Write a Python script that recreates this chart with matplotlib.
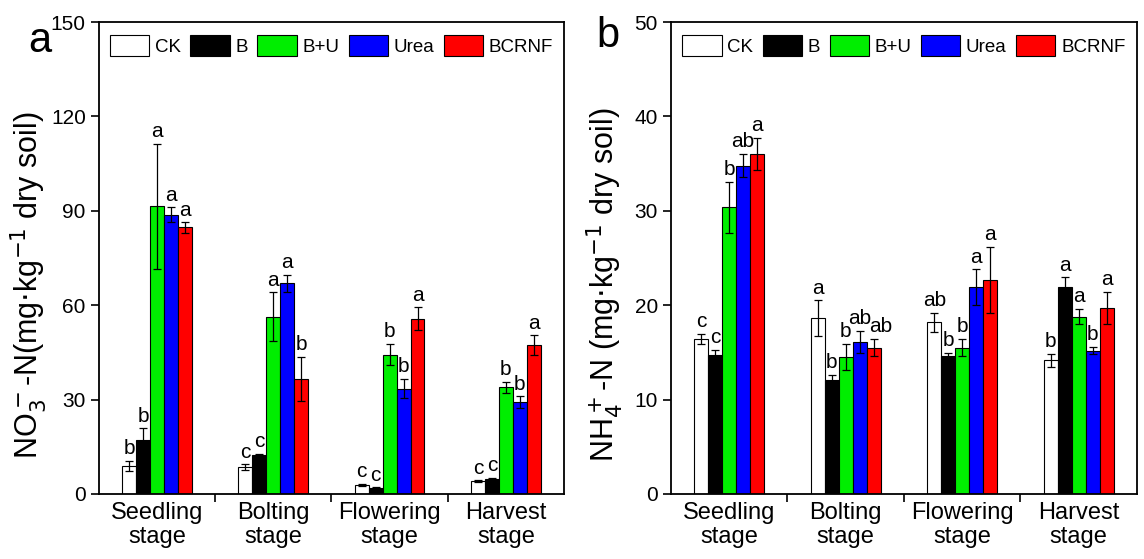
import numpy as np
import matplotlib
matplotlib.use("Agg")
import matplotlib.pyplot as plt

plt.rcParams['font.family'] = ['Liberation Sans', 'DejaVu Sans']

stages = ["Seedling\nstage", "Bolting\nstage", "Flowering\nstage", "Harvest\nstage"]
treatments = ["CK", "B", "B+U", "Urea", "BCRNF"]
colors = ["white", "black", "#00ee00", "#0000ff", "#ff0000"]

# NO3- -N, rows = treatments, cols = stages
no3_mean = [
    [9.0, 8.5, 2.8, 4.0],
    [17.3, 12.5, 1.9, 4.8],
    [91.4, 56.3, 44.3, 33.9],
    [88.7, 66.9, 33.5, 29.1],
    [84.7, 36.5, 55.7, 47.4],
]
no3_err = [
    [1.6, 0.9, 0.4, 0.3],
    [3.6, 0.3, 0.3, 0.3],
    [19.9, 7.8, 3.4, 1.8],
    [2.4, 2.7, 3.1, 1.9],
    [1.6, 7.1, 3.7, 3.1],
]
no3_letters = [
    ["b", "c", "c", "c"],
    ["b", "c", "c", "c"],
    ["a", "a", "b", "b"],
    ["a", "a", "b", "b"],
    ["a", "b", "a", "a"],
]

# NH4+ -N
nh4_mean = [
    [16.45, 18.6, 18.2, 14.15],
    [14.7, 12.1, 14.6, 21.9],
    [30.4, 14.5, 15.5, 18.8],
    [34.8, 16.1, 21.9, 15.2],
    [36.0, 15.5, 22.7, 19.7],
]
nh4_err = [
    [0.55, 1.9, 1.0, 0.7],
    [0.6, 0.5, 0.35, 1.05],
    [2.7, 1.4, 0.9, 0.8],
    [1.2, 1.2, 1.9, 0.4],
    [1.7, 0.9, 3.5, 1.7],
]
nh4_letters = [
    ["c", "a", "ab", "b"],
    ["c", "b", "b", "a"],
    ["b", "b", "b", "a"],
    ["ab", "ab", "a", "b"],
    ["a", "ab", "a", "a"],
]


def draw_panel(ax, mean, err, letters, ymax, ystep, ylabel, tag, pad, lab_x, tag_xy):
    x = np.arange(len(stages))
    w = 0.12
    for j, name in enumerate(treatments):
        pos = x + (j - 2) * w
        ax.bar(pos, mean[j], w, color=colors[j], edgecolor="black", linewidth=0.8,
               label=name, yerr=err[j], capsize=3,
               error_kw=dict(elinewidth=0.9, capthick=0.9, ecolor="black"))
        for k in range(len(stages)):
            lx = pos[k]
            # two-letter labels on the last bar sit a little to the right
            if j == 4 and len(letters[j][k]) == 2:
                lx += 0.06
            ax.text(lx, mean[j][k] + err[j][k] + pad, letters[j][k],
                    ha="center", va="bottom", fontsize=15)
    ax.set_xlim(-0.5, 3.5)
    ax.set_ylim(0, ymax)
    ax.set_yticks(np.arange(0, ymax + 1, ystep))
    ax.set_xticks(x)
    ax.set_xticklabels(stages, fontsize=17, linespacing=1.1)
    ax.set_xticks([0.5, 1.5, 2.5], minor=True)
    ax.tick_params(axis="x", which="major", length=0, pad=6)
    ax.tick_params(axis="x", which="minor", direction="out", length=6, width=1.2)
    ax.tick_params(axis="y", direction="out", length=6, width=1.2, labelsize=15)
    for s in ax.spines.values():
        s.set_linewidth(1.3)
    ax.set_ylabel(ylabel, fontsize=22)
    ax.yaxis.set_label_coords(lab_x, 0.443)
    ax.legend(loc="upper center", ncol=5, frameon=False, fontsize=13.5,
              handlelength=2.1, handleheight=1.3, handletextpad=0.3,
              columnspacing=0.5, borderaxespad=0.3)
    ax.text(tag_xy[0], tag_xy[1], tag, transform=ax.transAxes, fontsize=30,
            ha="center", va="center")


fig = plt.figure(figsize=(11.44, 5.59), dpi=100)
ax1 = fig.add_axes([0.0865, 0.1163, 0.4065, 0.8443])
ax2 = fig.add_axes([0.5865, 0.1163, 0.4073, 0.8443])

draw_panel(ax1, no3_mean, no3_err, no3_letters, 150, 30,
           r"NO$_3^-$-N(mg$\cdot$kg$^{-1}$ dry soil)", "a", 0.8,
           -0.108, (-0.127, 0.96))
draw_panel(ax2, nh4_mean, nh4_err, nh4_letters, 50, 10,
           r"NH$_4^+$-N (mg$\cdot$kg$^{-1}$ dry soil)", "b", 0.3,
           -0.098, (-0.135, 0.97))

fig.savefig("out.png", dpi=100)
